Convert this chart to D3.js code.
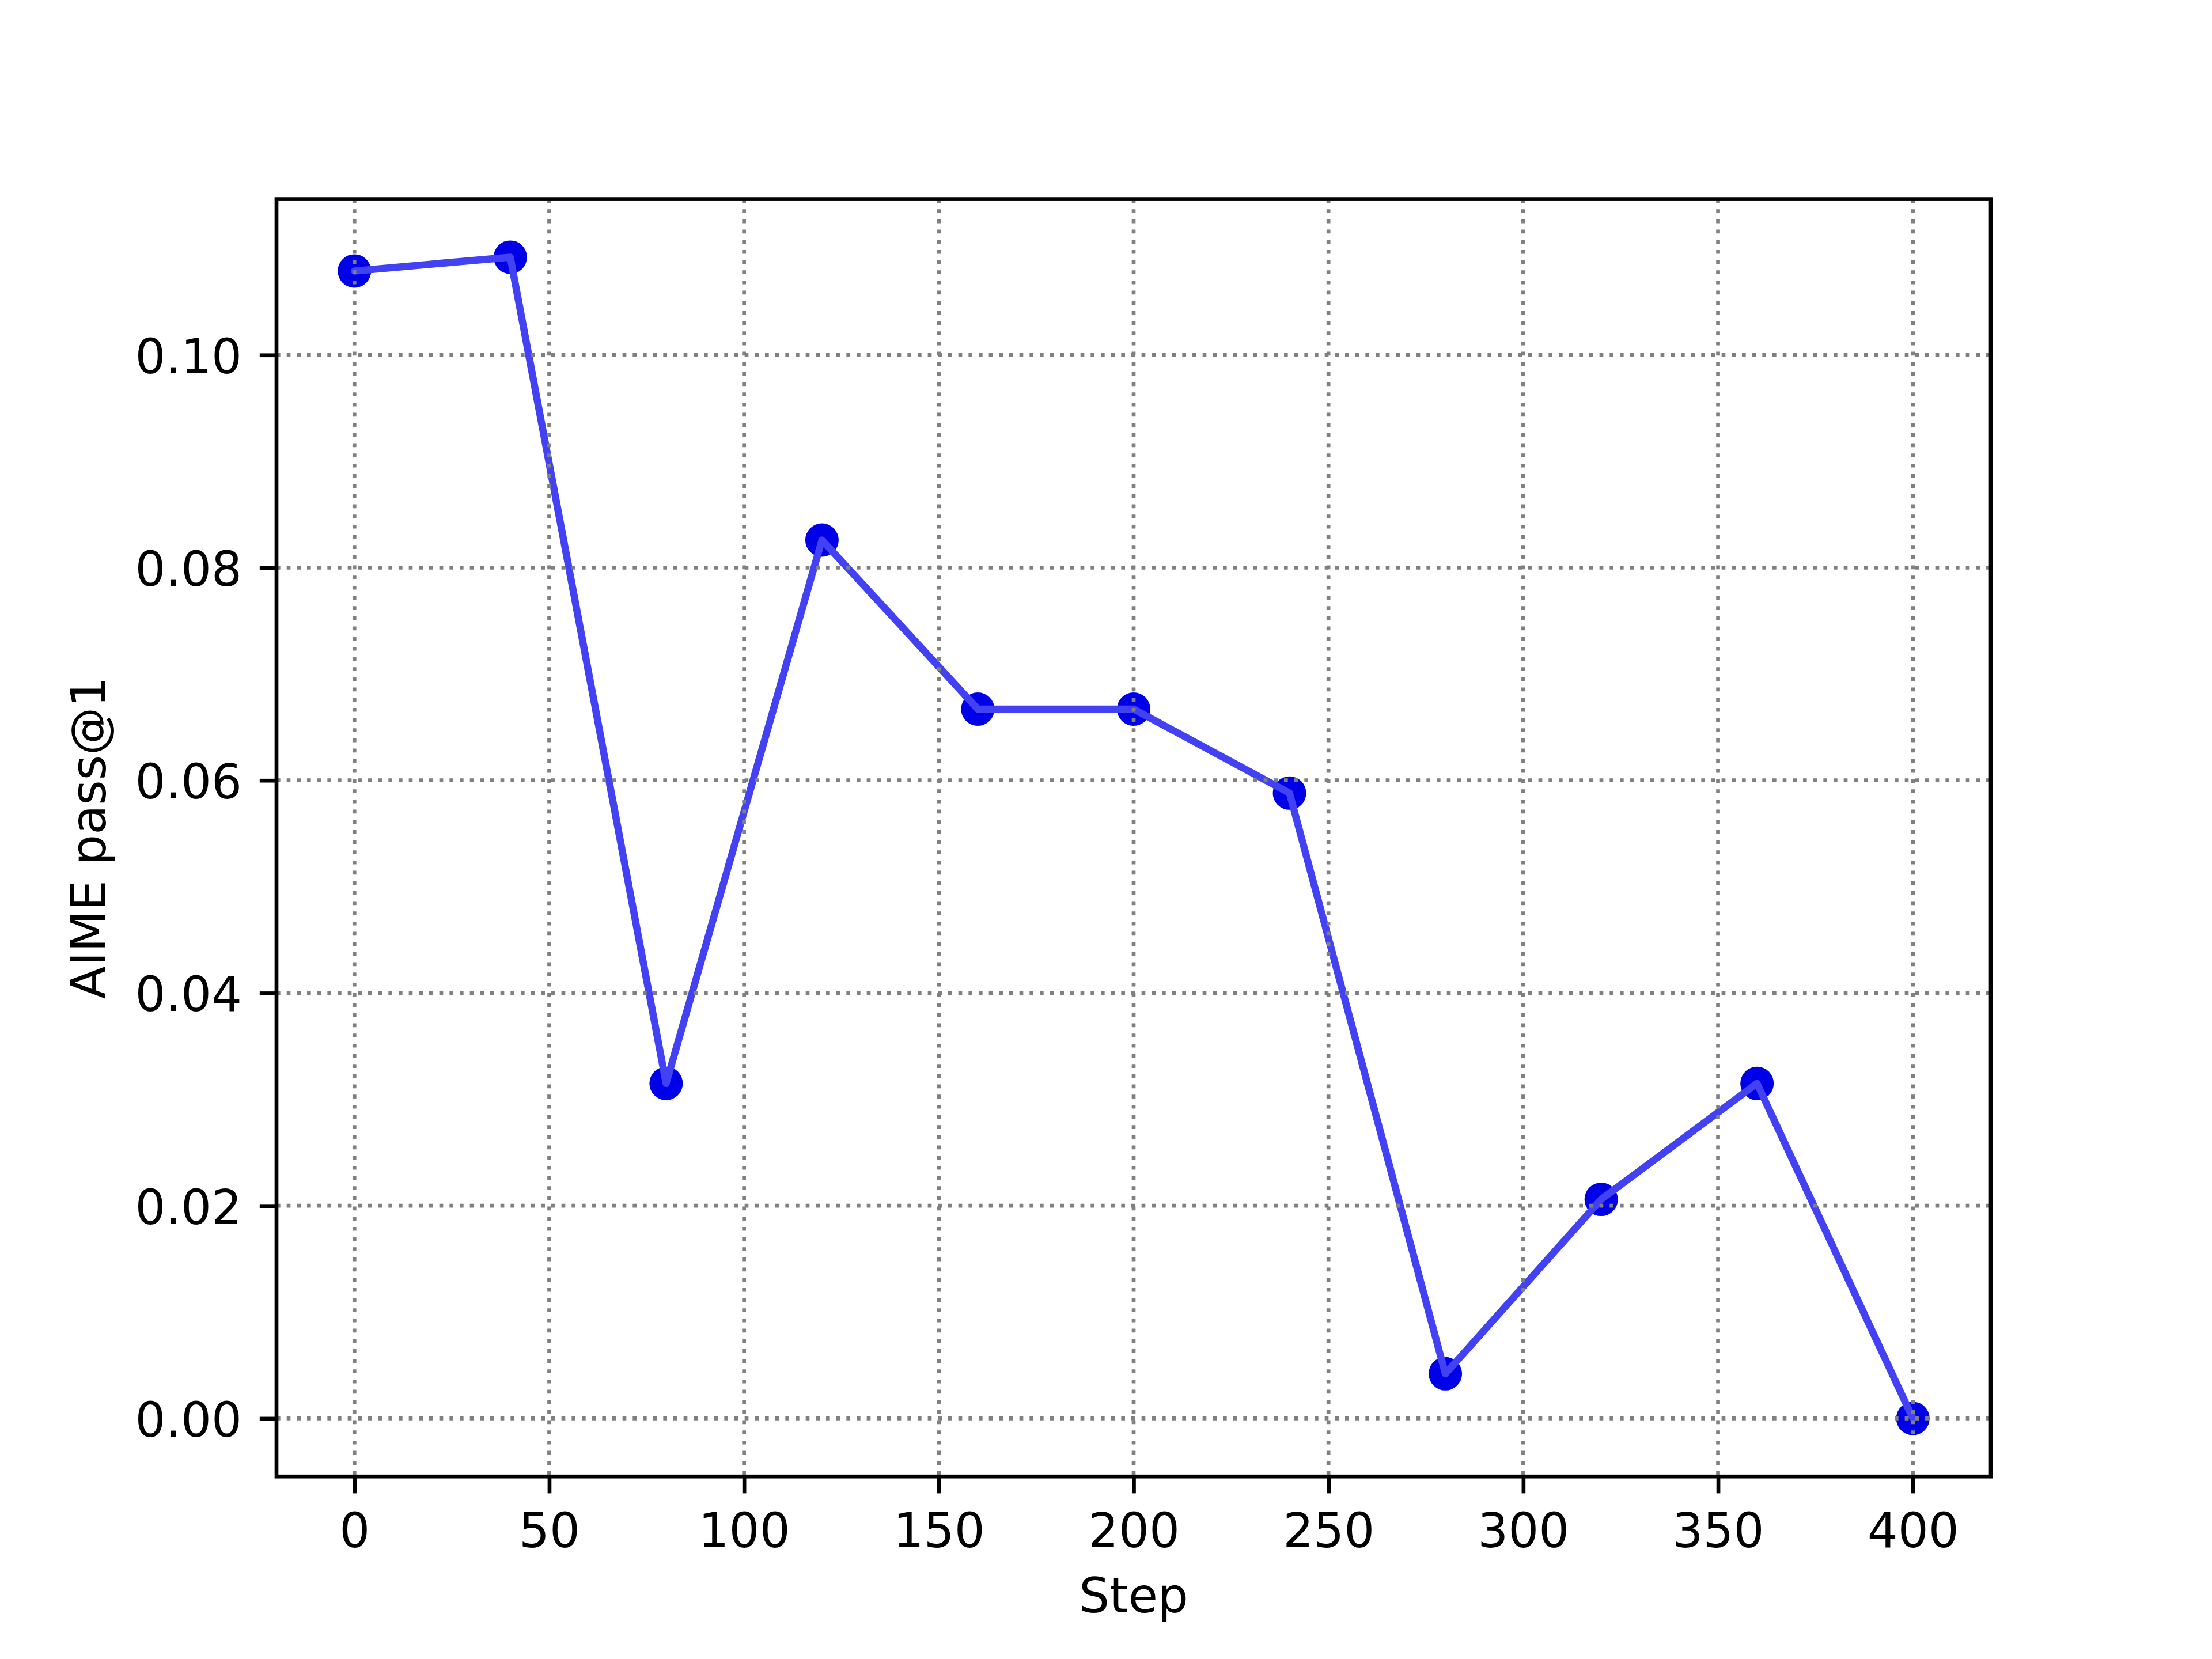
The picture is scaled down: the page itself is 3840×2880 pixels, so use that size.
<!DOCTYPE html>
<html>
<head>
<meta charset="utf-8">
<script src="https://cdn.jsdelivr.net/npm/d3@7"></script>
<style>
  html, body { margin: 0; padding: 0; background: #fff; }
  text { font-family: "DejaVu Sans", sans-serif; }
</style>
</head>
<body>
<script>
// ---- data ----
const steps = [0, 40, 80, 120, 160, 200, 240, 280, 320, 360, 400];
const aimePass1 = [0.1079, 0.1092, 0.0315, 0.0826, 0.0667, 0.0667, 0.0588, 0.0042, 0.0206, 0.0315, 0.0];
const xTickValues = [0, 50, 100, 150, 200, 250, 300, 350, 400];
const yTickValues = [0.00, 0.02, 0.04, 0.06, 0.08, 0.10];
const xLabel = "Step";
const yLabel = "AIME pass@1";

// ---- layout ----
const W = 3840, H = 2880;
const pLeft = 480, pRight = 3456, pTop = 345.6, pBottom = 2563.2;
const pt = 600 / 72;
const fontSize = 10 * pt;

const svg = d3.select("body").append("svg")
  .attr("width", W).attr("height", H)
  .style("display", "block");
svg.append("rect").attr("width", W).attr("height", H).attr("fill", "#fff");

// matplotlib-like 5% margins
const xExt = d3.extent(steps);
const xPad = (xExt[1] - xExt[0]) * 0.05;
const yExt = d3.extent(aimePass1);
const yPad = (yExt[1] - yExt[0]) * 0.05;

const x = d3.scaleLinear().domain([xExt[0] - xPad, xExt[1] + xPad]).range([pLeft, pRight]);
const y = d3.scaleLinear().domain([yExt[0] - yPad, yExt[1] + yPad]).range([pBottom, pTop]);

const data = steps.map((s, i) => ({ s, v: aimePass1[i] }));

// markers
svg.append("g").selectAll("circle").data(data).enter().append("circle")
  .attr("cx", d => x(d.s)).attr("cy", d => y(d.v))
  .attr("r", 29).attr("fill", "#0000e8");

// line
const line = d3.line().x(d => x(d.s)).y(d => y(d.v));
svg.append("path").datum(data)
  .attr("d", line)
  .attr("fill", "none")
  .attr("stroke", "#4242f4")
  .attr("stroke-width", 1.5 * pt)
  .attr("stroke-linejoin", "round")
  .attr("stroke-linecap", "round");

// grid (drawn on top, dotted gray)
const gridW = 0.8 * pt;
const dash = `${gridW} ${1.65 * gridW}`;
const grid = svg.append("g");
grid.selectAll("line.gx").data(xTickValues).enter().append("line")
  .attr("x1", d => x(d)).attr("x2", d => x(d))
  .attr("y1", pTop).attr("y2", pBottom)
  .attr("stroke", "#808080").attr("stroke-width", gridW)
  .attr("stroke-dasharray", dash);
grid.selectAll("line.gy").data(yTickValues).enter().append("line")
  .attr("y1", d => y(d)).attr("y2", d => y(d))
  .attr("x1", pLeft).attr("x2", pRight)
  .attr("stroke", "#808080").attr("stroke-width", gridW)
  .attr("stroke-dasharray", dash);

// axes via d3 axis
const tickLen = 3.5 * pt, tickPad = 3.5 * pt;
const xAxis = d3.axisBottom(x).tickValues(xTickValues).tickFormat(d3.format("d"))
  .tickSize(tickLen).tickPadding(tickPad).tickSizeOuter(0);
const gx = svg.append("g").attr("transform", `translate(0,${pBottom})`).call(xAxis);
gx.select(".domain").remove();
gx.selectAll(".tick line").attr("stroke", "#000").attr("stroke-width", gridW);
gx.selectAll(".tick text")
  .attr("font-size", fontSize).attr("fill", "#000")
  .attr("font-family", "DejaVu Sans")
  .attr("dy", null)
  .attr("y", 2686 - pBottom);

const yAxis = d3.axisLeft(y).tickValues(yTickValues).tickFormat(d3.format(".2f"))
  .tickSize(tickLen).tickPadding(tickPad).tickSizeOuter(0);
const gy = svg.append("g").attr("transform", `translate(${pLeft},0)`).call(yAxis);
gy.select(".domain").remove();
gy.selectAll(".tick line").attr("stroke", "#000").attr("stroke-width", gridW);
gy.selectAll(".tick text")
  .attr("font-size", fontSize).attr("fill", "#000")
  .attr("font-family", "DejaVu Sans")
  .attr("dy", null).attr("x", -(pLeft - 420))
  .attr("y", 31);

// frame
svg.append("rect")
  .attr("x", pLeft).attr("y", pTop)
  .attr("width", pRight - pLeft).attr("height", pBottom - pTop)
  .attr("fill", "none").attr("stroke", "#000").attr("stroke-width", gridW)
  .attr("stroke-linejoin", "miter");

// labels
svg.append("text")
  .attr("x", (pLeft + pRight) / 2).attr("y", 2799)
  .attr("text-anchor", "middle").attr("font-size", fontSize).attr("fill", "#000")
  .text(xLabel);
svg.append("text")
  .attr("transform", `translate(183,${(pTop + pBottom) / 2}) rotate(-90)`)
  .attr("text-anchor", "middle").attr("font-size", fontSize).attr("fill", "#000")
  .text(yLabel);
</script>
</body>
</html>
